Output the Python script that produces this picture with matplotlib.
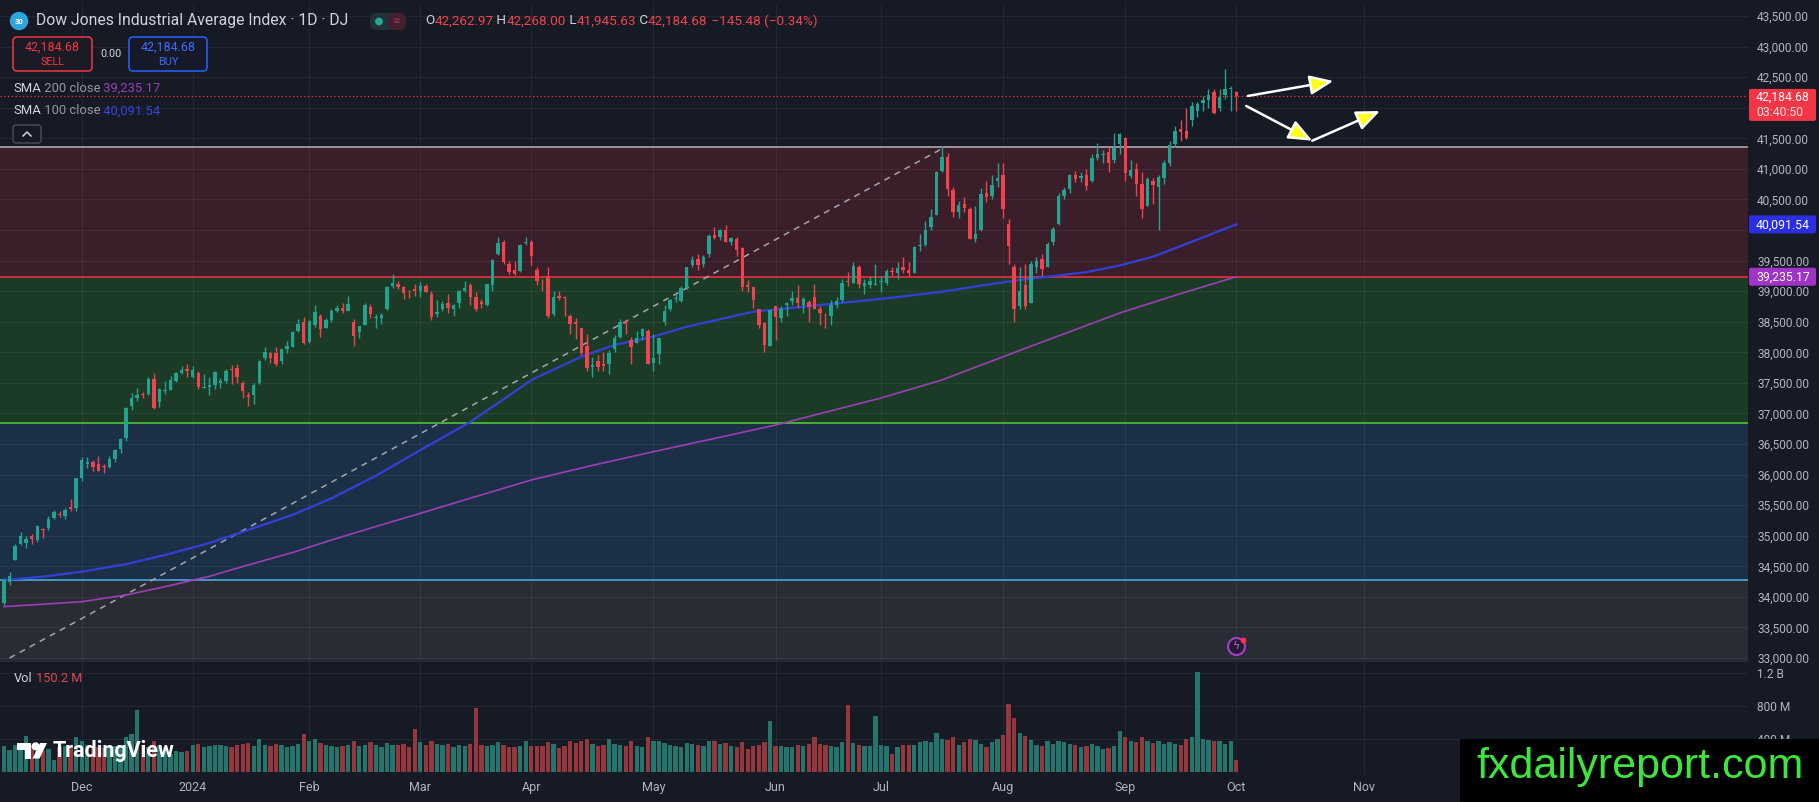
import matplotlib.pyplot as plt
import numpy as np
from matplotlib.patches import Rectangle, FancyBboxPatch, FancyArrowPatch, Circle, Polygon
from matplotlib.ticker import FuncFormatter

plt.rcParams['font.family'] = ['Roboto', 'DejaVu Sans']

W, H = 1819, 802
BG = '#161a25'
UP, DOWN = '#22a38f', '#f0434f'
TXT = '#d1d4dc'
AXT = '#b2b5be'

# ---- data (daily bars, 10 Nov 2023 .. 1 Oct 2024) ----
month_labels = ['Dec', '2024', 'Feb', 'Mar', 'Apr', 'May', 'Jun', 'Jul', 'Aug', 'Sep', 'Oct', 'Nov']
month_starts = [14, 34, 55, 75, 95, 117, 139, 158, 180, 202, 222, 245]

opens = [
    33900, 34250, 34600, 34860, 34880, 34990, 34930, 35110, 35120, 35290, 35360, 35330, 35470, 35450,
    35950, 36180, 36200, 36180, 36140, 36120, 36250, 36420, 36600, 37120, 37250, 37320, 37310, 37560, 37180, 37360, 37390, 37530, 37660, 37720,
    37600, 37660, 37420, 37430, 37470, 37500, 37530, 37720, 37750, 37500, 37300, 37300, 37500, 37900, 37980, 37990, 37860, 38060, 38090, 38350, 38500,
    38170, 38450, 38600, 38400, 38530, 38680, 38730, 38680, 38500, 38330, 38450, 38740, 38560, 38560, 38700, 39080, 39120, 39060, 38960, 39030,
    39000, 39080, 38960, 38620, 38700, 38800, 38700, 38800, 39010, 39100, 38900, 38820, 38770, 39100, 39600, 39800, 39450, 39350, 39330, 39780,
    39810, 39350, 39140, 39250, 38630, 38920, 38900, 38600, 38500, 38390, 38100, 37760, 37850, 37800, 37800, 38050, 38250, 38500, 38200, 38150, 38260, 38350,
    37820, 37970, 38500, 38700, 38870, 38840, 39050, 39420, 39530, 39440, 39600, 39920, 39880, 40000, 39800, 39860, 39700, 39100, 39070, 38700, 38480, 38100,
    38750, 38560, 38780, 38840, 38880, 38780, 38830, 38900, 38700, 38600, 38600, 38780, 38850, 39160, 39140, 39400, 39080, 39100, 39100,
    39150, 39130, 39330, 39300, 39400, 39350, 39300, 39730, 39760, 40050, 40250, 40960, 41200, 40650, 40300, 40430, 40350, 39850, 40000, 40600, 40550, 40800,
    40900, 40100, 39400, 38750, 39100, 38800, 39400, 39520, 39400, 39800, 40100, 40550, 40670, 40900, 40850, 40900, 40800, 41180, 41230, 41280, 41150, 41400,
    41500, 40880, 41000, 40750, 40400, 40800, 40700, 40850, 41100, 41400, 41650, 41620, 41800, 41950, 42070, 42130, 42250, 42000, 42200, 42300,
    42262.97,
]
highs = [
    34300, 34400, 34870, 35060, 34990, 35030, 35180, 35130, 35320, 35420, 35410, 35450, 35600, 35950,
    36290, 36290, 36240, 36300, 36180, 36300, 36410, 36590, 37100, 37340, 37420, 37350, 37600, 37660, 37410, 37530, 37610, 37680, 37780, 37800,
    37770, 37700, 37650, 37600, 37700, 37580, 37720, 37790, 37800, 37530, 37350, 37500, 37880, 38080, 38010, 38090, 38060, 38180, 38340, 38540, 38570,
    38530, 38780, 38620, 38560, 38700, 38780, 38800, 38920, 38550, 38430, 38800, 38790, 38620, 38640, 39090, 39280, 39170, 39090, 39020, 39120,
    39150, 39120, 39000, 38860, 38840, 38950, 38790, 39020, 39160, 39140, 38980, 38870, 39120, 39520, 39890, 39830, 39500, 39500, 39770, 39890,
    39830, 39400, 39200, 39400, 39000, 39000, 38920, 38620, 38560, 38400, 38300, 37920, 37950, 38000, 38040, 38280, 38550, 38530, 38250, 38350, 38400, 38380,
    38300, 38240, 38780, 38870, 38960, 39080, 39400, 39580, 39600, 39590, 39930, 40050, 40020, 40080, 39880, 39880, 39720, 39180, 39070, 38710, 38500, 38700,
    38760, 38760, 38830, 39000, 39100, 38900, 38850, 39120, 38750, 38640, 38850, 38900, 39200, 39320, 39480, 39420, 39200, 39250, 39450,
    39250, 39370, 39400, 39480, 39550, 39480, 39730, 39930, 40150, 40350, 40970, 41380, 41260, 40700, 40480, 40540, 40380, 40400, 40690, 40800, 40900, 41100,
    41100, 40180, 39450, 39400, 39450, 39500, 39550, 39600, 39800, 40050, 40600, 40700, 40910, 40960, 40950, 41000, 41250, 41420, 41300, 41350, 41580, 41590,
    41520, 41150, 41100, 40950, 40870, 40850, 40900, 41150, 41450, 41700, 41800, 42000, 42100, 42100, 42190, 42300, 42300, 42300, 42630, 42350,
    42268.00,
]
lows = [
    33860, 34200, 34600, 34850, 34800, 34870, 34900, 34960, 35100, 35280, 35300, 35270, 35400, 35400,
    35900, 36100, 36060, 36050, 36030, 36100, 36210, 36350, 36550, 37050, 37200, 37250, 37300, 37080, 37110, 37320, 37390, 37510, 37650, 37600,
    37580, 37400, 37420, 37300, 37400, 37420, 37500, 37480, 37500, 37250, 37120, 37150, 37480, 37880, 37820, 37780, 37800, 37990, 38080, 38330, 38140,
    38150, 38420, 38250, 38390, 38500, 38660, 38640, 38670, 38100, 38240, 38440, 38560, 38400, 38460, 38690, 39050, 39040, 38870, 38880, 38920,
    38900, 38980, 38520, 38580, 38670, 38640, 38600, 38720, 38990, 38780, 38680, 38720, 38760, 39000, 39590, 39450, 39280, 39270, 39320, 39750,
    39430, 39100, 39000, 38560, 38600, 38850, 38600, 38300, 38220, 37960, 37700, 37600, 37700, 37700, 37650, 38000, 38230, 38300, 37800, 38150, 38200, 37800,
    37700, 37800, 38450, 38680, 38820, 38820, 39040, 39400, 39350, 39400, 39550, 39850, 39830, 39800, 39750, 39580, 39000, 38990, 38720, 38400, 38000, 38100,
    38200, 38500, 38600, 38780, 38720, 38650, 38500, 38700, 38450, 38400, 38450, 38720, 38830, 39080, 39130, 39050, 38950, 39050, 39100,
    38980, 39100, 39250, 39200, 39300, 39250, 39290, 39650, 39740, 40000, 40240, 40950, 40550, 40220, 40200, 40300, 39850, 39800, 39990, 40450, 40500, 40700,
    40200, 39450, 38500, 38700, 38700, 38800, 39300, 39250, 39390, 39750, 40080, 40500, 40600, 40780, 40780, 40650, 40790, 41150, 41100, 40950, 41100, 41250,
    40800, 40850, 40550, 40200, 40400, 40420, 40000, 40750, 41050, 41350, 41450, 41480, 41700, 41850, 41950, 42000, 41900, 41950, 42150, 41950,
    41945.63,
]
closes = [
    34283, 34337, 34828, 34991, 34945, 34947, 35151, 35088, 35273, 35390, 35333, 35417, 35430, 35951,
    36246, 36204, 36124, 36054, 36117, 36248, 36405, 36578, 37090, 37248, 37305, 37306, 37558, 37083, 37405, 37385, 37545, 37657, 37710, 37690,
    37715, 37430, 37440, 37466, 37683, 37525, 37696, 37711, 37593, 37361, 37267, 37469, 37864, 38001, 37905, 37806, 38049, 38109, 38333, 38467, 38150,
    38519, 38654, 38380, 38521, 38677, 38726, 38671, 38797, 38273, 38424, 38773, 38628, 38564, 38612, 39069, 39131, 39069, 38972, 38949, 38996,
    39087, 38990, 38585, 38661, 38791, 38723, 38770, 39006, 39043, 38906, 38715, 38790, 39110, 39512, 39781, 39476, 39314, 39282, 39760, 39807,
    39567, 39170, 39127, 38597, 38904, 38892, 38884, 38461, 38459, 37983, 37735, 37798, 37753, 37775, 37986, 38240, 38503, 38460, 38086, 38240, 38386, 37816,
    37903, 38226, 38676, 38852, 38884, 39056, 39388, 39513, 39432, 39558, 39908, 39869, 40004, 39807, 39873, 39671, 39065, 39070, 38853, 38442, 38112, 38686,
    38571, 38711, 38807, 38886, 38799, 38868, 38747, 38712, 38647, 38589, 38778, 38834, 39134, 39150, 39411, 39112, 39127, 39164, 39118,
    39170, 39331, 39308, 39375, 39344, 39291, 39721, 39753, 40001, 40212, 40954, 41198, 40665, 40288, 40415, 40358, 39854, 39935, 40590, 40540, 40743, 40843,
    40348, 39737, 38703, 38998, 38763, 39446, 39498, 39357, 39766, 40009, 40563, 40660, 40897, 40834, 40890, 40713, 41175, 41240, 41250, 41091, 41335, 41563,
    40937, 40975, 40756, 40345, 40830, 40736, 40861, 41097, 41394, 41622, 41606, 41503, 42025, 42063, 42125, 42208, 41915, 42175, 42313, 42330,
    42184.68,
]
volumes = [  # millions
    310, 270, 330, 320, 440, 310, 300, 260, 280, 150, 300, 310, 320, 425,
    370, 330, 320, 300, 290, 300, 310, 330, 420, 465, 755, 330, 300, 380, 310, 300, 220, 260, 240, 260,
    330, 340, 300, 320, 330, 330, 310, 300, 330, 340, 350, 320, 400, 330, 320, 340, 330, 300, 310, 340, 465,
    380, 400, 350, 330, 320, 300, 310, 330, 380, 320, 330, 360, 330, 300, 350, 330, 330, 340, 300, 525,
    360, 330, 370, 340, 330, 340, 300, 330, 320, 340, 780, 330, 310, 330, 360, 330, 300, 300, 320, 370,
    310, 320, 310, 360, 340, 290, 320, 370, 350, 370, 400, 340, 320, 330, 400, 340, 330, 320, 370, 310, 300, 420,
    380, 370, 350, 330, 320, 300, 350, 340, 330, 320, 380, 370, 340, 350, 310, 300, 360, 280, 320, 330, 360, 620,
    320, 320, 300, 300, 330, 310, 340, 420, 340, 330, 310, 300, 360, 816, 350, 330, 320, 320, 683,
    330, 310, 220, 300, 330, 330, 330, 360, 370, 360, 470, 400, 390, 430, 330, 360, 400, 390, 340, 300, 360, 400,
    450, 828, 658, 477, 440, 390, 330, 320, 370, 340, 370, 360, 340, 330, 300, 310, 340, 320, 280, 290, 320, 500,
    420, 380, 360, 420, 370, 350, 380, 340, 360, 340, 330, 400, 420, 1208, 400, 390, 380, 370, 340, 370,
    150.2,
]

sma100_bars = [0, 7, 14, 22, 29, 37, 44, 52, 59, 67, 75, 84, 90, 95, 104, 110, 117, 123, 135, 147, 159, 169,
               176, 182, 188, 195, 201, 207, 214, 222]
sma100 = [34275, 34330, 34411, 34535, 34684, 34880, 35093, 35340, 35612, 35980, 36400, 36860, 37230, 37546,
          37928, 38120, 38255, 38418, 38663, 38773, 38882, 38990, 39090, 39170, 39235, 39310, 39420, 39563,
          39808, 40091.54]
sma200_bars = [0, 14, 22, 29, 37, 44, 52, 59, 67, 75, 85, 95, 106, 117, 128, 139, 158, 169, 184, 201, 212, 222]
sma200 = [33840, 33920, 34030, 34166, 34335, 34521, 34725, 34930, 35150, 35366, 35640, 35911, 36150, 36374,
          36590, 36810, 37252, 37547, 38065, 38642, 38960, 39235.17]

# drawn zones (lower, upper, colour) and their edge lines
zones = [(32900, 34270, '#2a2c35'), (34270, 36840, '#1b3046'), (36840, 39235, '#1c3b27'), (39235, 41355, '#3a1e29')]
zone_lines = [(34270, '#4aa8d8'), (36840, '#52c234'), (39235, '#e8323c'), (41355, '#b3a6ad')]

trend_x = [1, 169.6]
trend_y = [33000, 41360]
arrow_from = [(224.1, 42192), (223.8, 42028), (235.7, 41460)]
arrow_to = [(239.5, 42437), (235.7, 41460), (247.9, 41946)]

last_price = 42184.68
hidden_ticks = [40000, 42000]   # covered by the price tags

# ---- figure ----
fig = plt.figure(figsize=(W / 100, H / 100), dpi=100, facecolor=BG)
ax_p = fig.add_axes([0, 1 - 660 / H, 1748 / W, 656 / H], facecolor=BG)
ax_v = fig.add_axes([0, 1 - 775 / H, 1748 / W, 113 / H], facecolor=BG)

x = np.arange(len(closes))
o = np.array(opens, float)
c = np.array(closes, float)
hi = np.array(highs, float)
lo = np.array(lows, float)
up = c >= o
cols = np.where(up, UP, DOWN)

for ax in (ax_p, ax_v):
    ax.set_xlim(-0.72, 314.2)
    for s in ax.spines.values():
        s.set_visible(False)
    ax.set_xticks(month_starts)
    ax.grid(True, color='white', alpha=0.055, lw=0.8)
    ax.yaxis.tick_right()

ax_p.set_ylim(32967, 43696)
ax_p.set_yticks(np.arange(33000, 43501, 500))
ax_p.yaxis.set_major_formatter(FuncFormatter(lambda v, p: '' if round(v) in hidden_ticks else f'{v:,.2f}'))
ax_p.tick_params(axis='y', length=0, pad=6.5, labelsize=8.6, labelcolor=AXT)
ax_p.tick_params(axis='x', length=0, labelbottom=False)

for lo_, hi_, col in zones:
    ax_p.axhspan(lo_, hi_, color=col, lw=0, zorder=0.5)
for yv, col in zone_lines:
    ax_p.axhline(yv, color=col, lw=1.2, zorder=2)

ax_p.plot(trend_x, trend_y, color='#a3a6ae', lw=1.1, dashes=(4, 3.5), zorder=2.5)
ax_p.plot(sma200_bars, sma200, color='#9b3fb5', lw=1.2, zorder=2.6)
ax_p.plot(sma100_bars, sma100, color='#3340d8', lw=1.6, zorder=2.6)

ax_p.vlines(x, lo, hi, colors=cols, lw=1, zorder=3)
ax_p.bar(x, np.maximum(np.abs(c - o), 12), bottom=np.minimum(o, c), width=0.62,
         color=cols, lw=0, zorder=4)

ax_p.axhline(last_price, color='#f23645', lw=0.9, ls=(0, (1, 2)), zorder=2.7)

for a, b in zip(arrow_from, arrow_to):
    ax_p.add_patch(FancyArrowPatch(a, b, arrowstyle='-|>,head_length=1.2,head_width=0.5',
                                   mutation_scale=12, facecolor='#ffff1a', edgecolor='white',
                                   lw=1.8, shrinkA=0, shrinkB=0, zorder=6))

# events icon
ax_p.scatter([222], [33196], s=150, facecolor='#241a33', edgecolor='#a43fc8', lw=1.5, zorder=6)
ax_p.text(222, 33196, 'ϟ', color='#c45ae6', fontsize=8, ha='center', va='center',
          family='DejaVu Sans', zorder=7)
ax_p.scatter([223.2], [33290], s=10, color='#f23645', zorder=8)

# volume pane
ax_v.set_ylim(-36, 1333)
ax_v.bar(x, volumes, width=0.78, color=np.where(up, '#24766d', '#94383d'), lw=0, zorder=3)
ax_v.set_yticks([400, 800, 1200])
ax_v.set_yticklabels(['400 M', '800 M', '1.2 B'])
ax_v.tick_params(axis='y', length=0, pad=6.5, labelsize=8.6, labelcolor=AXT)
ax_v.set_xticklabels(month_labels)
ax_v.tick_params(axis='x', length=0, pad=4.5, labelsize=9, labelcolor=AXT)

# ---- overlay in pixel coordinates ----
ov = fig.add_axes([0, 0, 1, 1], zorder=10)
ov.set_xlim(0, W)
ov.set_ylim(H, 0)
ov.axis('off')
ov.patch.set_alpha(0)
rend = fig.canvas.get_renderer()


def rich(xp, yp, parts, size, **kw):
    for s, col in parts:
        t = ov.text(xp, yp, s, color=col, fontsize=size, va='center', ha='left', **kw)
        xp += t.get_window_extent(rend).width
    return xp


def ypix(price):
    return H - ax_p.transData.transform((0, price))[1]


ov.plot([0, 1748], [661, 661], color='#2a2e39', lw=1.2)

# header
ov.add_patch(Circle((19, 21), 8.5, color='#2ba6de'))
ov.text(19, 21.5, '30', color='white', fontsize=5.5, ha='center', va='center', weight='bold')
ov.text(36, 21, 'Dow Jones Industrial Average Index · 1D · DJ', color=TXT, fontsize=11.3,
        va='center', ha='left')
ov.add_patch(FancyBboxPatch((370, 13), 36, 17, boxstyle='round,pad=0,rounding_size=7',
                            color='#23313a', lw=0))
ov.add_patch(FancyBboxPatch((388, 13), 18, 17, boxstyle='round,pad=0,rounding_size=7',
                            color='#43202f', lw=0))
ov.add_patch(Circle((379, 21.5), 3.2, color='#22ab94'))
ov.text(396.5, 21.5, '≈', color='#d0306a', fontsize=8, ha='center', va='center')
rich(425, 21, [('O', TXT), ('42,262.97', DOWN), (' H', TXT), ('42,268.00', DOWN), (' L', TXT),
               ('41,945.63', DOWN), (' C', TXT), ('42,184.68', DOWN), (' −145.48 (−0.34%)', DOWN)], 9.7)

ov.add_patch(FancyBboxPatch((13, 37), 79, 34, boxstyle='round,pad=0,rounding_size=4',
                            facecolor='#1a1b24', edgecolor='#f23645', lw=1.1))
ov.text(52.5, 47, '42,184.68', color='#f23645', fontsize=9, ha='center', va='center')
ov.text(52.5, 62, 'SELL', color='#f23645', fontsize=7.8, ha='center', va='center')
ov.text(111, 54, '0.00', color=TXT, fontsize=7.8, ha='center', va='center')
ov.add_patch(FancyBboxPatch((129, 37), 78, 34, boxstyle='round,pad=0,rounding_size=4',
                            facecolor='#161a28', edgecolor='#2962ff', lw=1.1))
ov.text(168, 47, '42,184.68', color='#3d6bff', fontsize=9, ha='center', va='center')
ov.text(168, 62, 'BUY', color='#3d6bff', fontsize=7.8, ha='center', va='center')

rich(13, 88, [('SMA', TXT), (' 200 close', '#9598a1'), (' 39,235.17', '#9c3fb8')], 9.4)
rich(13, 111, [('SMA', TXT), (' 100 close', '#9598a1'), (' 40,091.54', '#3a44e0')], 9.4)
ov.add_patch(FancyBboxPatch((13, 125), 28, 18, boxstyle='round,pad=0,rounding_size=3',
                            facecolor=BG, edgecolor='#4a4e5a', lw=1))
ov.plot([23, 27, 31], [136, 132, 136], color=TXT, lw=1.1)

# right-axis price tags
yl = ypix(last_price)
ov.add_patch(FancyBboxPatch((1749, yl - 7.5), 67, 32, boxstyle='round,pad=0,rounding_size=2',
                            color='#f23645', lw=0))
ov.text(1756, yl + 1, '42,184.68', color='white', fontsize=8.8, va='center')
ov.text(1756, yl + 16, '03:40:50', color='#ffe0e3', fontsize=8.8, va='center')
for price, label, col in [(40091.54, '40,091.54', '#2b2fe4'), (39235.17, '39,235.17', '#a034c6')]:
    yb = ypix(price)
    ov.add_patch(FancyBboxPatch((1749, yb - 9), 67, 18, boxstyle='round,pad=0,rounding_size=2',
                                color=col, lw=0))
    ov.text(1756, yb + 0.5, label, color='white', fontsize=8.8, va='center')

# volume legend
rich(14, 679, [('Vol', TXT), (' 150.2 M', '#e0474c')], 9.2)

# TradingView logo
ov.add_patch(Polygon([(16.5, 743), (31, 743), (31, 758.5), (24.5, 758.5), (24.5, 749.5), (16.5, 749.5)],
                     color='white', lw=0))
ov.add_patch(Circle((35.5, 746.3), 3.3, color='white'))
ov.add_patch(Polygon([(32.5, 758.5), (39.5, 758.5), (47, 743), (40, 743)], color='white', lw=0))
ov.text(53, 750.5, 'TradingView', color='white', fontsize=15.5, weight='bold', va='center', ha='left')

# watermark box
ov.add_patch(Rectangle((1460, 739), W - 1460, H - 739, color='#000000', lw=0))
ov.text(1640, 767, 'fxdailyreport.com', color='#3de63d', fontsize=31, family='Liberation Sans',
        ha='center', va='center')

fig.savefig('out.png', dpi=100, facecolor=BG)
